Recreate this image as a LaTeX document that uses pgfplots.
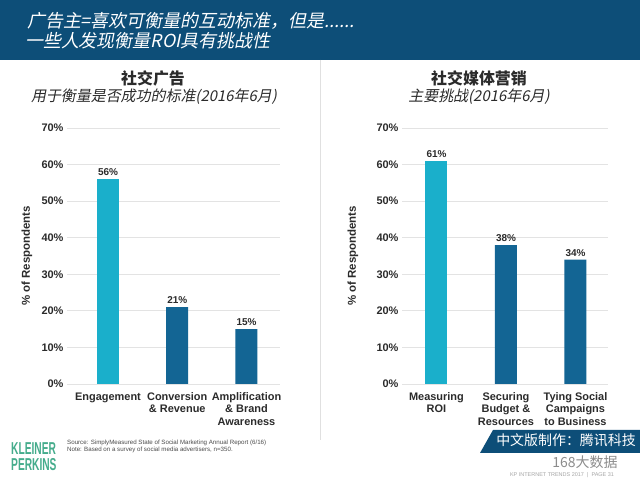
\documentclass[border=0pt]{standalone}
\usepackage{fontspec}
\setmainfont{Liberation Sans}
\newfontfamily\cjk{Noto Sans CJK SC}
\newfontfamily\cjkit{Noto Sans CJK SC}[FakeSlant=0.2]
\usepackage{graphicx}
\usepackage{pgfplots}
\pgfplotsset{compat=1.18}
\definecolor{hdr}{HTML}{0D4E78}
\definecolor{cyanbar}{HTML}{1AAFCB}
\definecolor{darkbar}{HTML}{136594}
\definecolor{kp}{HTML}{45AC8C}
\definecolor{gridc}{HTML}{E3E3E3}
\definecolor{txt}{HTML}{2B2B2B}
\definecolor{divc}{HTML}{E0E0E0}
\pgfplotsset{panel/.style={
  scale only axis, height=256bp,
  ybar, bar width=22bp, bar shift=0pt,
  ymin=0, ymax=70, ytick={0,10,...,70},
  /pgf/number format/assume math mode=true,
  yticklabel={\pgfmathprintnumber{\tick}\%},
  ymajorgrids, grid style={gridc, line width=0.8pt},
  axis line style={draw=none},
  major tick length=0pt,
  xtick={0,1,2},
  xticklabel style={align=center, font=\bfseries\fontsize{11}{12.5}\selectfont, text=txt, yshift=-5bp},
  yticklabel style={font=\bfseries\fontsize{11}{12}\selectfont, text=txt},
  ylabel={\% of Respondents},
  ylabel style={font=\bfseries\fontsize{11.5}{12}\selectfont, text=txt},
  nodes near coords={\pgfmathprintnumber{\pgfplotspointmeta}\%},
  nodes near coords style={font=\bfseries\fontsize{10}{12}\selectfont, text=txt},
  clip=false
}}
\begin{document}
\begin{tikzpicture}[x=1bp,y=1bp]
\path[use as bounding box] (0,0) rectangle (640,480);
\fill[white] (0,0) rectangle (640,480);
% header
\fill[hdr] (0,420) rectangle (640,480);
\node[anchor=west, text=white, font=\cjkit\fontsize{18}{20}\selectfont, inner sep=0pt] at (27,459) {广告主=喜欢可衡量的互动标准，但是......};
\node[anchor=west, text=white, font=\cjkit\fontsize{18}{20}\selectfont, inner sep=0pt] at (25,439) {一些人发现衡量ROI具有挑战性};
% divider
\draw[divc, line width=0.8pt] (320,420) -- (320,40);
% panel titles
\node[text=txt, font=\cjk\bfseries\fontsize{16}{18}\selectfont, inner sep=0pt] at (153,402) {社交广告};
\node[text=txt, font=\cjkit\fontsize{15}{17}\selectfont, inner sep=0pt] at (154,383) {用于衡量是否成功的标准(2016年6月)};
\node[text=txt, font=\cjk\bfseries\fontsize{16}{18}\selectfont, inner sep=0pt] at (479,402) {社交媒体营销};
\node[text=txt, font=\cjkit\fontsize{15}{17}\selectfont, inner sep=0pt] at (479,383) {主要挑战(2016年6月)};
% left chart
\begin{axis}[panel, at={(67bp,96bp)}, anchor=south west,
  width=213bp, xmin=-0.592, xmax=2.484,
  xticklabels={Engagement,{Conversion\\\& Revenue},{Amplification\\\& Brand\\Awareness}},
  ylabel style={at={(axis description cs:-0.188,0.5)}, anchor=center}]
\addplot[fill=cyanbar, draw=none, bar shift=0pt] coordinates {(0,56)};
\addplot[fill=darkbar, draw=none, bar shift=0pt] coordinates {(1,21) (2,15)};
\end{axis}
% right chart
\begin{axis}[panel, at={(402bp,96bp)}, anchor=south west,
  width=206bp, xmin=-0.496, xmax=2.468,
  xticklabels={{Measuring\\ROI},{Securing\\Budget \&\\Resources},{Tying Social\\Campaigns\\to Business}},
  ylabel style={at={(axis description cs:-0.238,0.5)}, anchor=center}]
\addplot[fill=cyanbar, draw=none, bar shift=0pt] coordinates {(0,61)};
\addplot[fill=darkbar, draw=none, bar shift=0pt] coordinates {(1,38) (2,34)};
\end{axis}
% footer
\node[anchor=west, text=kp, font=\bfseries\fontsize{16}{16}\selectfont, inner sep=0pt] at (11,31) {\scalebox{0.64}[1.08]{KLEINER}};
\node[anchor=west, text=kp, font=\bfseries\fontsize{16}{16}\selectfont, inner sep=0pt] at (11,15) {\scalebox{0.64}[1.08]{PERKINS}};
\node[anchor=north west, text=black!70, font=\fontsize{6.2}{7}\selectfont, align=left, inner sep=0pt] at (67,40) {Source: SimplyMeasured State of Social Marketing Annual Report (6/16)\\Note: Based on a survey of social media advertisers, n=350.};
\fill[hdr] (480,27) -- (493,50) -- (640,50) -- (640,27) -- cycle;
\node[text=white, font=\cjk\fontsize{14}{16}\selectfont, inner sep=0pt] at (566,40) {中文版制作：腾讯科技};
\node[text=black!45, font=\cjk\fontsize{14}{15}\selectfont, inner sep=0pt] at (585,18) {168大数据};
\node[text=black!35, font=\fontsize{5.5}{6}\selectfont, inner sep=0pt] at (562,5) {KP INTERNET TRENDS 2017 \ | \ PAGE 31};
\end{tikzpicture}
\end{document}
